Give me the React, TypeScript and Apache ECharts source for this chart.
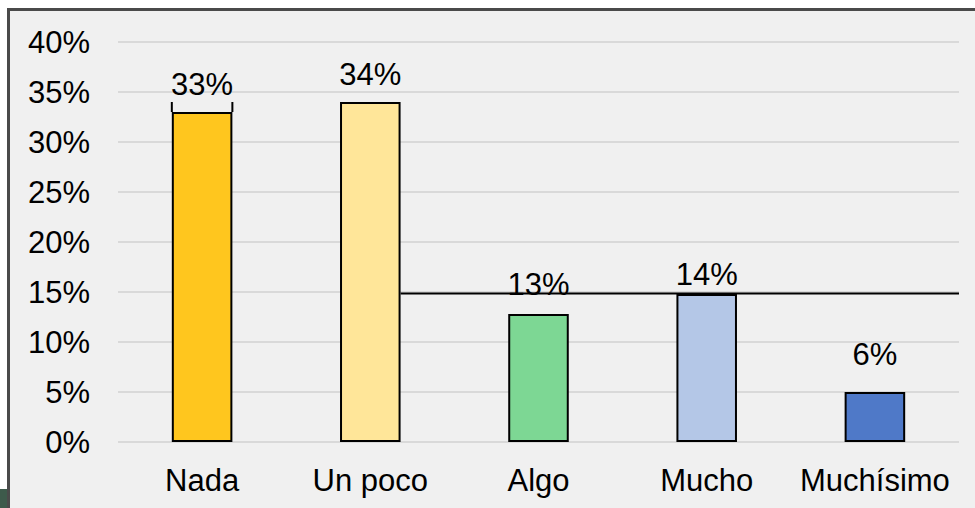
import React, { useEffect, useRef } from 'react';
import * as echarts from 'echarts';

const categories = ['Nada', 'Un poco', 'Algo', 'Mucho', 'Muchísimo'];
const barValues = [33, 34, 12.8, 14.8, 5];
const labelValues = [33, 34, 13, 14, 6];
const barColors = ['#FFC61E', '#FFE699', '#7DD794', '#B4C7E7', '#4F79C8'];
const yMin = 0;
const yMax = 40;
const yStep = 5;
const bracketData = [[0, 33, 34]];
const referenceLineData = [[1, 14.85]];

const BAR_RATIO = 0.36;
const FONT = '"Liberation Sans", Arial, sans-serif';
const FS = 31;

export default function App() {
  const ref = useRef<HTMLDivElement>(null);

  useEffect(() => {
    document.body.style.margin = '0';
    if (!ref.current) return;
    const chart = echarts.init(ref.current, undefined, { renderer: 'svg' });

    const option: any = {
      animation: false,
      backgroundColor: '#ffffff',
      textStyle: { fontFamily: FONT },
      graphic: [
        {
          type: 'rect',
          z: -100,
          shape: { x: 8.5, y: 9.5, width: 990, height: 520 },
          style: { fill: '#f0f0f0', stroke: '#4a4a4a', lineWidth: 3 },
        },
        {
          type: 'rect',
          z: -100,
          shape: { x: 0, y: 489, width: 7, height: 20 },
          style: { fill: '#3d5a4b' },
        },
      ],
      grid: { left: 118, right: 16, top: 42, bottom: 66, containLabel: false },
      xAxis: {
        type: 'category',
        data: categories,
        axisTick: { show: false },
        axisLine: { show: false },
        axisLabel: { color: '#000', fontSize: FS, fontFamily: FONT, margin: 23, interval: 0 },
      },
      yAxis: {
        type: 'value',
        min: yMin,
        max: yMax,
        interval: yStep,
        axisLine: { show: false },
        axisTick: { show: false },
        axisLabel: { color: '#000', fontSize: FS, fontFamily: FONT, margin: 28, formatter: '{value}%' },
        splitLine: { lineStyle: { color: '#d9d9d9', width: 2 } },
      },
      series: [
        {
          type: 'bar',
          barWidth: BAR_RATIO * 100 + '%',
          z: 2,
          data: barValues.map((v, i) => ({
            value: v,
            itemStyle: { color: barColors[i], borderColor: '#000', borderWidth: 2 },
          })),
        },
        {
          type: 'bar',
          barWidth: BAR_RATIO * 100 + '%',
          barGap: '-100%',
          z: 3,
          silent: true,
          itemStyle: { color: 'rgba(0,0,0,0)' },
          label: {
            show: true,
            position: 'top',
            distance: 12,
            color: '#000',
            fontSize: FS,
            fontFamily: FONT,
            formatter: '{c}%',
          },
          data: labelValues,
        },
        {
          type: 'custom',
          z: 4,
          silent: true,
          data: bracketData,
          renderItem: (params: any, api: any) => {
            const base = api.coord([api.value(0), api.value(1)]);
            const top = api.coord([api.value(0), api.value(2)]);
            const half = (api.size([1, 0])[0] * BAR_RATIO) / 2;
            const st = { stroke: '#000', lineWidth: 2 };
            return {
              type: 'group',
              children: [
                { type: 'line', shape: { x1: base[0] - half, y1: base[1], x2: base[0] - half, y2: top[1] }, style: st },
                { type: 'line', shape: { x1: base[0] + half, y1: base[1], x2: base[0] + half, y2: top[1] }, style: st },
              ],
            };
          },
        },
        {
          type: 'custom',
          z: 5,
          silent: true,
          data: referenceLineData,
          renderItem: (params: any, api: any) => {
            const p = api.coord([api.value(0), api.value(1)]);
            const half = (api.size([1, 0])[0] * BAR_RATIO) / 2;
            const right = params.coordSys.x + params.coordSys.width;
            return {
              type: 'line',
              shape: { x1: p[0] + half, y1: p[1], x2: right, y2: p[1] },
              style: { stroke: '#000', lineWidth: 2 },
            };
          },
        },
      ],
    };

    chart.setOption(option);
    return () => chart.dispose();
  }, []);

  return <div ref={ref} style={{ width: 975, height: 508 }} />;
}
